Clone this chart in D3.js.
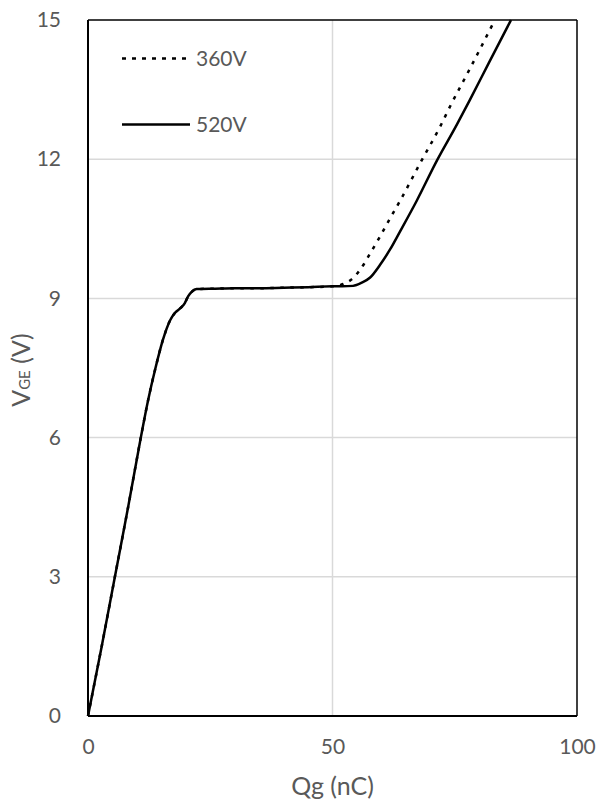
<!DOCTYPE html>
<html>
<head>
<meta charset="utf-8">
<script src="https://cdn.jsdelivr.net/npm/d3@7"></script>
<style>
  html, body { margin: 0; padding: 0; background: #fff; }
  svg { display: block; }
  text { font-family: Lato, "Open Sans", sans-serif; fill: #595959; }
</style>
</head>
<body>
<svg id="chart" width="598" height="803"></svg>
<script>
// Gate charge curves: V_GE versus Qg at two collector voltages
const qg360  = [0, 2.8, 5.5, 8.2, 10.8, 12.3, 13.8, 15.3, 16.8, 17.8, 19.0, 19.8, 20.5, 21.2, 22.2, 26, 30, 35, 40, 45, 50, 51, 52.2, 53.9, 55.6, 57.7, 59.7, 61.8, 63.8, 67.9, 72, 74.2, 78, 83.2];
const vge360 = [0, 1.5, 3.0, 4.5, 6.0, 6.81, 7.5, 8.1, 8.53, 8.69, 8.8, 8.9, 9.05, 9.14, 9.2, 9.21, 9.22, 9.22, 9.23, 9.24, 9.26, 9.27, 9.31, 9.41, 9.61, 9.97, 10.33, 10.73, 11.1, 11.91, 12.7, 13.17, 13.93, 15];

const qg520  = [0, 2.8, 5.5, 8.2, 10.8, 12.3, 13.8, 15.3, 16.8, 17.8, 19.0, 19.8, 20.5, 21.2, 22.2, 26, 30, 35, 40, 45, 50, 52, 54.2, 56, 57.7, 59.7, 61.8, 63.8, 67.2, 71.4, 75.4, 78.1, 82, 86.5];
const vge520 = [0, 1.5, 3.0, 4.5, 6.0, 6.81, 7.5, 8.1, 8.53, 8.69, 8.8, 8.9, 9.05, 9.14, 9.2, 9.21, 9.22, 9.22, 9.23, 9.24, 9.26, 9.26, 9.27, 9.34, 9.45, 9.72, 10.06, 10.44, 11.1, 11.98, 12.74, 13.28, 14.08, 15];

const seriesNames = ["360V", "520V"];
const xTicks = [0, 50, 100];
const yTicks = [0, 3, 6, 9, 12, 15];

const svg = d3.select("#chart");
const plotLeft = 88, plotRight = 577, plotTop = 20, plotBottom = 716;

const x = d3.scaleLinear().domain([0, 100]).range([plotLeft, plotRight]);
const y = d3.scaleLinear().domain([0, 15]).range([plotBottom, plotTop]);

// gridlines
svg.append("g").selectAll("line")
  .data(yTicks.filter(t => t > 0 && t < 15))
  .join("line")
  .attr("x1", plotLeft).attr("x2", plotRight)
  .attr("y1", d => y(d)).attr("y2", d => y(d))
  .attr("stroke", "#d9d9d9").attr("stroke-width", 1.5);
svg.append("g").selectAll("line")
  .data(xTicks.filter(t => t > 0 && t < 100))
  .join("line")
  .attr("x1", d => x(d)).attr("x2", d => x(d))
  .attr("y1", plotTop).attr("y2", plotBottom)
  .attr("stroke", "#d9d9d9").attr("stroke-width", 1.5);

// frame: top and right thin, left and bottom axis lines heavier
svg.append("line").attr("x1", plotLeft).attr("x2", plotRight).attr("y1", plotTop).attr("y2", plotTop)
  .attr("stroke", "#000").attr("stroke-width", 1.5);
svg.append("line").attr("x1", plotRight).attr("x2", plotRight).attr("y1", plotTop).attr("y2", plotBottom)
  .attr("stroke", "#000").attr("stroke-width", 1.5);

// axes (labels only, lines drawn separately)
const yAxis = d3.axisLeft(y).tickValues(yTicks).tickSize(0).tickPadding(27);
const gy = svg.append("g").attr("transform", `translate(${plotLeft},0)`).call(yAxis);
gy.select(".domain").remove();
gy.selectAll("text").style("font-size", "21px").style("fill", "#595959")
  .style("font-family", "Lato, sans-serif");

const xAxis = d3.axisBottom(x).tickValues(xTicks).tickSize(0).tickPadding(23);
const gx = svg.append("g").attr("transform", `translate(0,${plotBottom})`).call(xAxis);
gx.select(".domain").remove();
gx.selectAll("text").style("font-size", "21px").style("fill", "#595959")
  .style("font-family", "Lato, sans-serif");

svg.append("line").attr("x1", plotLeft).attr("x2", plotLeft).attr("y1", plotTop).attr("y2", plotBottom)
  .attr("stroke", "#000").attr("stroke-width", 2);
svg.append("line").attr("x1", plotLeft).attr("x2", plotRight).attr("y1", plotBottom).attr("y2", plotBottom)
  .attr("stroke", "#000").attr("stroke-width", 2);

// curves
const line = d3.line().x(d => x(d[0])).y(d => y(d[1])).curve(d3.curveMonotoneX);
const data520 = qg520.map((q, i) => [q, vge520[i]]);
const data360 = qg360.map((q, i) => [q, vge360[i]]);

svg.append("path").datum(data520).attr("d", line)
  .attr("fill", "none").attr("stroke", "#000").attr("stroke-width", 2.5)
  .attr("stroke-linejoin", "round");
svg.append("path").datum(data360).attr("d", line)
  .attr("fill", "none").attr("stroke", "#000").attr("stroke-width", 2.5)
  .attr("stroke-dasharray", "3.5,6.5");

// legend
const legend = svg.append("g");
const legendRows = [
  { name: seriesNames[0], dash: "4,6", y: 58.5 },
  { name: seriesNames[1], dash: null, y: 124.5 }
];
legendRows.forEach(r => {
  legend.append("line").attr("x1", 122).attr("x2", 190).attr("y1", r.y).attr("y2", r.y)
    .attr("stroke", "#000").attr("stroke-width", 2.5)
    .attr("stroke-dasharray", r.dash);
  legend.append("text").attr("x", 196).attr("y", r.y).attr("dy", "0.35em")
    .style("font-size", "21px").text(r.name);
});

// axis titles
svg.append("text").attr("x", x(50)).attr("y", 795)
  .attr("text-anchor", "middle").style("font-size", "25px").text("Qg (nC)");

const yt = svg.append("text")
  .attr("transform", `translate(30,370) rotate(-90)`)
  .attr("text-anchor", "middle").style("font-size", "25px");
yt.append("tspan").text("V");
yt.append("tspan").style("font-size", "15px").text("GE");
yt.append("tspan").text(" (V)");
</script>
</body>
</html>
